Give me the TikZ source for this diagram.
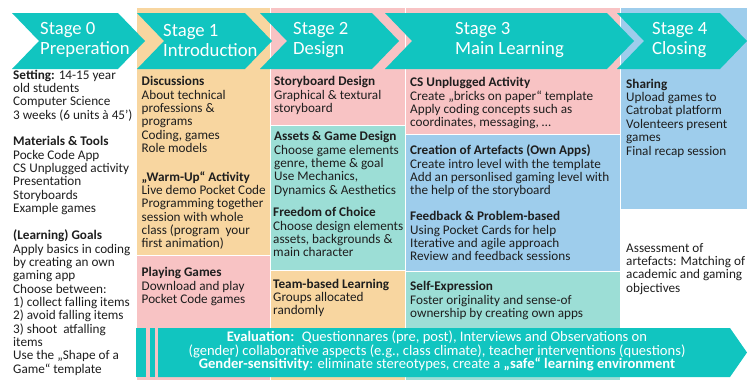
\documentclass[tikz,border=0pt]{standalone}
\usepackage{fontspec}
\setmainfont{Carlito}
\usepackage{xcolor}
\usepackage{tikz}
\definecolor{stageteal}{RGB}{17,197,192}
\definecolor{cellorange}{RGB}{248,214,160}
\definecolor{cellpink}{RGB}{248,195,196}
\definecolor{cellteal}{RGB}{156,222,214}
\definecolor{cellblue}{RGB}{158,205,236}
\definecolor{textdark}{RGB}{30,30,30}
\tikzset{
  cell/.style={draw=white, line width=0.8pt},
  chevron/.style={fill=stageteal},
  stagetext/.style={anchor=west, align=left, inner sep=0pt, text=white, font=\fontsize{18.7}{20}\selectfont},
  celltext/.style={anchor=north west, align=left, inner sep=0pt, text=textdark, font=\fontsize{13.2}{13.35}\selectfont},
}

\begin{document}
\begin{tikzpicture}[x=1pt, y=-1pt]
    \useasboundingbox (0,0) rectangle (747,380);

    % column backgrounds
    \filldraw[cell, fill=cellorange] (136,7) rectangle (270,255);
    \filldraw[cell, fill=cellpink] (136,255) rectangle (270,380);
    \filldraw[cell, fill=cellpink] (270,7) rectangle (405,125);
    \filldraw[cell, fill=cellteal] (270,125) rectangle (405,270);
    \filldraw[cell, fill=cellorange] (270,270) rectangle (405,380);
    \filldraw[cell, fill=cellpink] (405,7) rectangle (620,134);
    \filldraw[cell, fill=cellblue] (405,134) rectangle (620,271);
    \filldraw[cell, fill=cellteal] (405,271) rectangle (620,380);
    \filldraw[cell, fill=cellblue] (620,7) rectangle (747,209);

    % stage arrows
    \foreach \xa/\xb in {12/118, 137/245, 260/372, 385/607, 617/720}
      \fill[chevron] (\xa,13) -- (\xb,13) -- ++(27,28) -- (\xb,69) -- (\xa,69) -- ++(27,-28) -- cycle;

    \node[stagetext] (stage0) at (40,40) {Stage 0\\Preperation};
    \node[stagetext] (stage1) at (163,40) {Stage 1\\Introduction};
    \node[stagetext] (stage2) at (293,40) {Stage 2\\Design};
    \node[stagetext] (stage3) at (455,40) {Stage 3\\Main Learning};
    \node[stagetext] (stage4) at (652,40) {Stage 4\\Closing};

    % stage 0
    \node[celltext] (setting) at (13,69.8) {\textbf{Setting:} 14-15 year\\old students\\Computer Science\\3 weeks (6 units à 45’)};
    \node[celltext] (materials) at (13,136.3) {\textbf{Materials \& Tools}\\Pocke Code App\\CS Unplugged activity\\Presentation\\Storyboards\\Example games};
    \node[celltext] (goals) at (13,229.8) {\textbf{(Learning) Goals}\\Apply basics in coding\\by creating an own\\gaming app\\Choose between:\\1) collect falling items\\2) avoid falling items\\3) shoot \ atfalling\\items\\Use the „Shape of a\\Game“ template};

    % stage 1
    \node[celltext] (discussions) at (141.5,76.3) {\textbf{Discussions}\\About technical\\professions \&\\programs\\Coding, games\\Role models};
    \node[celltext] (warmup) at (141.5,171.3) {\textbf{„Warm-Up“ Activity}\\Live demo Pocket Code\\Programming together\\session with whole\\class (program \ your\\first animation)};
    \node[celltext] (playing) at (141.5,267.3) {\textbf{Playing Games}\\Download and play\\Pocket Code games};

    % stage 2
    \node[celltext] (storyboard) at (274,76.3) {\textbf{Storyboard Design}\\Graphical \& textural\\storyboard};
    \node[celltext] (assets) at (274,131.3) {\textbf{Assets \& Game Design}\\Choose game elements\\genre, theme \& goal\\Use Mechanics,\\Dynamics \& Aesthetics};
    \node[celltext] (freedom) at (273,207.3) {\textbf{Freedom of Choice}\\Choose design elements\\assets, backgrounds \&\\main character};
    \node[celltext] (teamwork) at (273,278.8) {\textbf{Team-based Learning}\\Groups allocated\\randomly};

    % stage 3
    \node[celltext] (unplugged) at (410,77.3) {\textbf{CS Unplugged Activity}\\Create „bricks on paper“ template\\Apply coding concepts such as\\coordinates, messaging, …};
    \node[celltext] (artefacts) at (410,144.8) {\textbf{Creation of Artefacts (Own Apps)}\\Create intro level with the template\\Add an personlised gaming level with\\the help of the storyboard};
    \node[celltext] (feedback) at (410,211.3) {\textbf{Feedback \& Problem-based}\\Using Pocket Cards for help\\Iterative and agile approach\\Review and feedback sessions};
    \node[celltext] (selfexpr) at (410,281.3) {\textbf{Self-Expression}\\Foster originality and sense-of\\ownership by creating own apps};

    % stage 4
    \node[celltext] (sharing) at (626,78.8) {\textbf{Sharing}\\Upload games to\\Catrobat platform\\Volenteers present\\games\\Final recap session};
    \node[celltext] (assessment) at (626,242.8) {Assessment of\\artefacts: Matching of\\academic and gaming\\objectives};

    % evaluation banner
    \fill[chevron] (136,328) rectangle (146,377);
    \fill[chevron] (150,328) rectangle (155,377);
    \fill[chevron] (158,328) -- (730,328) -- (747,352.5) -- (730,377) -- (158,377) -- cycle;
    \node[align=center, inner sep=0pt, text=white, font=\fontsize{14.6}{13.4}\selectfont] (evaluation) at (437,351)
      {\textbf{Evaluation:} \ Questionnares (pre, post), Interviews and Observations on\\(gender) collaborative aspects (e.g., class climate), teacher interventions (questions)\\\textbf{Gender-sensitivity}: eliminate stereotypes, create a \textbf{„safe“ learning environment}};
  \end{tikzpicture}
\end{document}
